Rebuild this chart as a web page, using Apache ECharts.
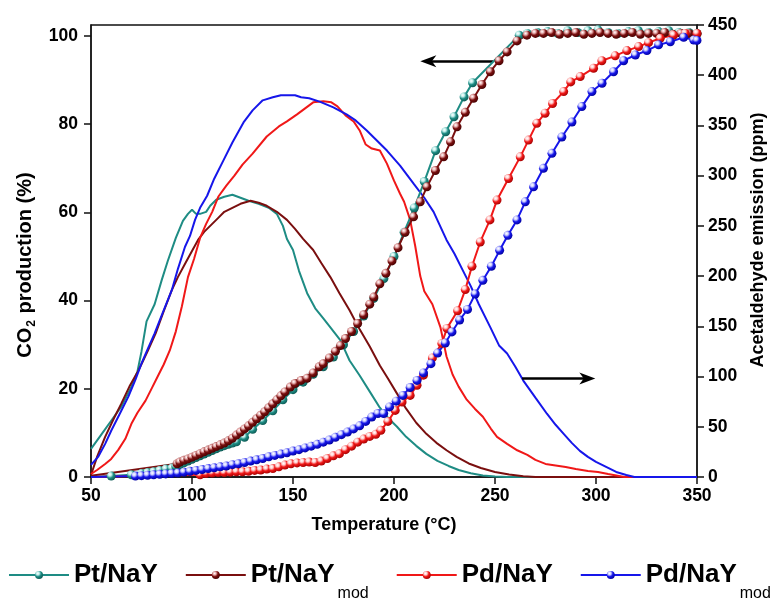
<!DOCTYPE html>
<html>
<head>
<meta charset="utf-8">
<script src="https://cdn.jsdelivr.net/npm/echarts@6/dist/echarts.min.js"></script>
<style>
  html, body { margin: 0; padding: 0; background: #fff; }
  #chart { width: 778px; height: 608px; }
</style>
</head>
<body>
<div id="chart"></div>
<script>
// Temperature axis ticks and the two y-axis tick sets
const tempTicks = [50, 100, 150, 200, 250, 300, 350];
const co2Ticks = [0, 20, 40, 60, 80, 100];
const ppmTicks = [0, 50, 100, 150, 200, 250, 300, 350, 400, 450];

const seriesNames = ['Pt/NaY', 'Pt/NaY_mod', 'Pd/NaY', 'Pd/NaY_mod'];

// CO2 production (%) vs temperature (°C)
const co2PtNaY = [[50,0],[60,0.2],[70,0.5],[75,0.8],[78,1.0],[81,1.2],[84,1.5],[87,1.8],[90,2.0],[92,2.4],[94,2.8],[96,3.2],[98,3.6],[100,4.0],[102,4.4],[104,4.8],[106,5.2],[108,5.6],[110,6.0],[112,6.4],[114,6.8],[116,7.1],[118,7.4],[120,7.7],[122,8.0],[126,9.0],[130,10.8],[135,12.8],[140,15.0],[145,17.5],[150,19.8],[155,21.5],[160,23.3],[165,25.0],[170,27.2],[175,30.0],[180,33.0],[185,36.5],[190,40.5],[195,45.0],[200,50.0],[205,55.5],[210,61.0],[215,67.0],[220.6,74.0],[225.6,78.3],[229.7,81.7],[234.7,86.2],[238.9,89.4],[262,100.2],[266,100.6],[271,100.8],[276,101.0],[281,100.6],[286,101.2],[291,100.8],[296,101.2],[301,101.4],[306,100.8],[311,100.6],[316,101.0],[321,101.2],[326,100.8],[331,101.0],[336,101.2],[341,100.8],[346,100.8],[350,100.6]];
const co2PtNaYmod = [[50,0.3],[92.6,3.0],[94,3.4],[96,3.8],[98,4.1],[100,4.5],[102,4.9],[104,5.3],[106,5.7],[108,6.1],[110,6.5],[112,6.9],[114,7.3],[116,7.7],[118,8.2],[120,8.8],[122,9.5],[124,10.2],[126,10.9],[128,11.6],[130,12.4],[132,13.2],[134,14.0],[136,14.8],[138,15.7],[140,16.6],[142,17.5],[144,18.4],[146,19.3],[148.7,20.4],[151,21.2],[154,21.9],[157,22.4],[160,23.6],[163,25.0],[165,25.7],[168,27.0],[171,28.5],[173.5,29.8],[176,31.4],[179,33.0],[182,34.8],[185,36.8],[188,39.2],[190,40.8],[193,43.8],[196,46.2],[199,49.0],[202,52.0],[205.5,55.5],[209.7,59.0],[213,62.4],[216.3,65.8],[220.5,69.5],[224.6,72.6],[228,76.0],[231.2,79.4],[235.3,82.7],[239.4,85.9],[243.5,89.0],[247.7,91.9],[252,94.4],[256,96.4],[260.9,98.9],[265.8,100.2],[270,100.6],[274,100.6],[278,100.8],[282,100.4],[286,100.6],[290,100.8],[294,100.4],[298,100.6],[302,100.8],[306,100.6],[310,100.4],[314,100.6],[318,100.8],[322,100.4],[326,100.6],[330,100.6],[334,100.8],[338,100.4],[342,100.6],[346,100.6],[350,100.5]];
const co2PdNaY = [[50,0],[104,0.5],[107,0.8],[110,0.9],[113,1.0],[116,1.0],[119,1.1],[122,1.2],[125,1.2],[128,1.3],[131,1.5],[134,1.6],[137,1.8],[140,1.9],[143,2.3],[146,2.7],[149,3.0],[152,3.2],[155,3.3],[158,3.4],[161,3.3],[164,3.6],[167,4.2],[170,4.8],[173,5.3],[176,6.2],[179,7.0],[182,7.9],[185,8.6],[188,9.2],[191,9.7],[193.5,10.6],[197,12.6],[200.6,15.1],[204,17.0],[208,18.5],[211.4,20.8],[214.6,23.1],[219,27.0],[223.7,30.3],[226.2,33.7],[231.5,37.7],[235.3,42.5],[238.6,47.8],[242.7,53.3],[247.5,58.3],[251,62.8],[256.7,67.7],[262.5,72.6],[266.6,76.4],[270.7,80.2],[274.8,82.5],[278.5,84.7],[284,87.4],[287.5,89.6],[292.2,90.8],[298.8,92.7],[302.9,94.4],[309.5,95.5],[315.3,96.7],[321.1,97.6],[326,98.5],[331.8,99.5],[338.4,100.2],[344.2,100.6],[350,100.6]];
const co2PdNaYmod = [[50,0],[72,0.2],[75,0.3],[78,0.4],[81,0.5],[84,0.6],[87,0.7],[90,0.8],[93,0.9],[96,1.1],[99,1.3],[102,1.5],[105,1.7],[108,1.9],[111,2.1],[114,2.3],[117,2.5],[120,2.8],[123,3.0],[126,3.3],[129,3.6],[132,3.9],[135,4.2],[138,4.6],[141,4.9],[144,5.2],[147,5.5],[150,5.9],[153,6.2],[156,6.6],[159,7.0],[162,7.4],[165,7.9],[168,8.4],[171,9.0],[174,9.6],[177,10.2],[180,10.9],[183,11.6],[186,12.6],[189,13.6],[192,14.4],[194.9,14.4],[197.8,15.9],[201.1,17.2],[204.4,18.5],[208,20.3],[211.4,21.9],[214.6,23.6],[218.3,25.7],[221.6,28.1],[225.4,30.4],[228.7,32.9],[232.5,35.6],[236.4,38.0],[240.2,41.5],[244,44.6],[248.2,47.8],[252.3,51.4],[256.4,54.8],[260.9,58.3],[265,62.4],[269.1,65.8],[274,70.0],[278.2,73.4],[283.1,77.1],[288.1,80.5],[293,84.0],[298,87.4],[303,89.3],[308.7,91.9],[313.7,94.4],[319.5,95.7],[325.2,96.7],[331,98.0],[336.8,98.7],[343.4,99.7],[348.4,99.1],[350,99.0]];

// Acetaldehyde emission (ppm) vs temperature (°C)
const acPtNaY = [[50,28],[55,42],[60,56],[65,70],[70,90],[73,105],[75,125],[77.5,155],[81.5,172],[85,196],[88,215],[92,238],[95.5,255],[98,262],[100,266],[102,262],[104,262],[107,264],[109,270],[112,276],[116,279],[120,281],[124,278],[128,275],[133,272],[138,268],[142,262],[145,250],[147,237],[150,226],[153,205],[157,183],[161,168],[165,158],[168.5,149],[173.5,136],[178,116],[183,101],[188,85],[193,69],[197,59],[201.5,50],[206,40],[211,31],[216,23],[221.5,16],[227,11],[232,7],[238,3.7],[244,1.5],[250,0.5],[256,0],[350,0]];
const acPtNaYmod = [[50,2],[53,20],[57,40],[61,57],[65,73],[69,90],[73.5,106],[78,125],[82,143],[86,165],[90,186],[93,199],[96.5,212],[100,225],[103,236],[106,244],[110,252],[113,258],[116,264],[120,268],[124,272],[129,275],[133,273],[137,270],[142,264],[147,256],[151,247],[155,237],[160,226],[164,213],[168.5,199],[173,183],[178,166],[183,147],[188,130],[193,111],[197,98],[201.5,83],[206,68],[211,54],[216,43],[221,34],[226,26.6],[231,20],[237,13.5],[243,9],[250,5],[257,2.5],[264,0.7],[270,0],[350,0]];
const acPdNaY = [[50,3],[53,7],[57,13],[60,18],[63.5,27],[67,38],[70,53],[73,64],[77,76],[80,88],[83,100],[86,112],[89,126],[92,145],[95,170],[98,199],[101,217],[104,238],[107,252],[110,264],[113,279],[117,290],[121,300],[125,311],[130,322],[137,339],[143,349],[147,354],[152,361],[156,367],[160,373],[165,374],[169,373],[172,369],[176,360],[180,354],[183,345],[186,331],[189,327],[193,325],[196.5,312],[200,295],[203,282],[205,274],[208,256],[210.5,230],[213,200],[215,185],[219,172],[223,149],[226,120],[229,102],[232,90],[236,77],[240,68],[244,60],[248,48],[251,40],[256,33],[261,26.6],[266,22],[270,17],[275,13],[280,11.5],[285,10],[290,8],[296,6],[301,5],[306,3],[310,1.5],[314,0],[350,0]];
const acPdNaYmod = [[50,12],[53.5,20],[57,33],[60,46],[64,62],[68.5,80],[72,97],[75,113],[78,127],[81.5,143],[85,161],[90,186],[93,207],[96.5,229],[99,240],[101.5,256],[104,268],[107.5,280],[111,297],[115.5,315],[120,333],[125.5,353],[130,365],[135,375],[140,378],[144,380],[148,380],[151,380],[154,378],[158,377],[163.5,373.5],[170,368],[176.5,361],[181,355],[186.5,345],[191,336],[196.5,325],[203,310],[209.7,292],[215,278],[219.6,264],[226,236],[230,222],[234,206],[238,190],[242,172],[247.7,149],[252,131],[256,123],[260,110],[264,96],[270,79],[275.7,63],[280,52],[284,43],[288,34],[292,26],[296,20],[300,15],[305,10],[310,5],[315,2],[319,0],[350,0]];

// Arrow annotations: [tail, head centre] in (temperature, axis value)
const arrowToCO2 = [[249, 94.3], [217, 94.3]];
const arrowToPpm = [[263.4, 98], [295.7, 98]];

const palette = [
  { line: '#1e8c84', dark: '#0b5650', light: '#bfeeea' },
  { line: '#7a0f0f', dark: '#430000', light: '#e9b0b0' },
  { line: '#f01818', dark: '#a00000', light: '#ffd0d0' },
  { line: '#1616ea', dark: '#00009a', light: '#cdd0ff' }
];

// concave arrowhead, pointing up before being turned along the line
const ARROW_HEAD = 'path://M0,0 L9,18 L0,13 L-9,18 Z';

function ball(p) {
  return new echarts.graphic.RadialGradient(0.35, 0.3, 0.75, [
    { offset: 0, color: '#ffffff' },
    { offset: 0.25, color: p.light },
    { offset: 0.55, color: p.line },
    { offset: 1, color: p.dark }
  ]);
}

function arrowLine(coords) {
  return {
    silent: true,
    symbol: ['none', ARROW_HEAD],
    symbolSize: [12, 16],
    label: { show: false },
    emphasis: { disabled: true },
    lineStyle: { color: '#000', width: 2.5, type: 'solid' },
    itemStyle: { color: '#000' },
    data: [[{ coord: coords[0] }, { coord: coords[1] }]]
  };
}

const co2Data = [co2PtNaY, co2PtNaYmod, co2PdNaY, co2PdNaYmod];
const acData = [acPtNaY, acPtNaYmod, acPdNaY, acPdNaYmod];

const FONT = "'Liberation Sans', Arial, Helvetica, sans-serif";

const series = [];
co2Data.forEach((d, i) => {
  const s = {
    name: seriesNames[i],
    type: 'line',
    yAxisIndex: 0,
    data: d,
    symbol: (v, params) => params.dataIndex === 0 ? 'none' : 'circle',
    symbolSize: 9,
    showAllSymbol: true,
    lineStyle: { color: palette[i].line, width: 2 },
    itemStyle: { color: ball(palette[i]), borderWidth: 0 },
    z: 5,
    silent: true
  };
  if (i === 1) s.markLine = arrowLine(arrowToCO2);
  series.push(s);
});
acData.forEach((d, i) => {
  const s = {
    name: seriesNames[i],
    type: 'line',
    yAxisIndex: 1,
    data: d,
    showSymbol: false,
    symbol: 'none',
    lineStyle: { color: palette[i].line, width: 2 },
    itemStyle: { color: palette[i].line },
    z: 3,
    silent: true
  };
  if (i === 3) s.markLine = arrowLine(arrowToPpm);
  series.push(s);
});

const chart = echarts.init(document.getElementById('chart'), null, { renderer: 'canvas' });
chart.setOption({
  animation: false,
  backgroundColor: '#fff',
  textStyle: { fontFamily: FONT },
  grid: { left: 91, right: 81, top: 25, bottom: 131, show: true, borderColor: '#111', borderWidth: 1.3 },
  legend: {
    data: seriesNames,
    left: 3,
    top: 543,
    itemGap: 27,
    itemWidth: 60,
    itemHeight: 10,
    selectedMode: false,
    formatter: name => name.endsWith('_mod')
      ? '{m|' + name.replace('_mod', '') + '}{s|mod}'
      : '{m|' + name + '}',
    textStyle: {
      fontFamily: FONT,
      color: '#000',
      rich: {
        m: { fontSize: 26, fontWeight: 'bold', lineHeight: 30, color: '#000', fontFamily: FONT },
        s: { fontSize: 16, lineHeight: 16, padding: [38, 0, 0, 3], color: '#000', fontFamily: FONT }
      }
    }
  },
  xAxis: {
    type: 'value',
    min: 50, max: 350, interval: 50,
    name: 'Temperature (°C)',
    nameLocation: 'middle',
    nameGap: 39,
    nameTextStyle: { fontSize: 18, fontWeight: 'bold', color: '#000', fontFamily: FONT, padding: [0, 20, 0, 0] },
    axisLine: { show: true, lineStyle: { color: '#111', width: 1.5 } },
    axisTick: { show: true, inside: false, length: 7, lineStyle: { color: '#111', width: 1.5 }, customValues: tempTicks },
    axisLabel: { fontSize: 17.5, fontWeight: 'bold', color: '#000', margin: 10, customValues: tempTicks },
    splitLine: { show: false }
  },
  yAxis: [
    {
      type: 'value',
      position: 'left',
      min: 0, max: 102.5,
      name: '{a|CO}{b|2}{a| production (%)}',
      nameLocation: 'middle',
      nameGap: 52,
      nameRotate: 90,
      nameTextStyle: {
        color: '#000',
        padding: [0, 28, 0, 0],
        rich: {
          a: { fontSize: 20, fontWeight: 'bold', color: '#000', fontFamily: FONT, lineHeight: 22 },
          b: { fontSize: 12, fontWeight: 'bold', color: '#000', fontFamily: FONT, lineHeight: 12, padding: [12, 1, 0, 1] }
        }
      },
      axisLine: { show: true, lineStyle: { color: '#111', width: 1.5 } },
      axisTick: { show: true, inside: false, length: 7, lineStyle: { color: '#111', width: 1.5 }, customValues: co2Ticks },
      axisLabel: { fontSize: 17.5, fontWeight: 'bold', color: '#000', margin: 13, customValues: co2Ticks },
      splitLine: { show: false }
    },
    {
      type: 'value',
      position: 'right',
      min: 0, max: 450, interval: 50,
      name: 'Acetaldehyde emission (ppm)',
      nameLocation: 'middle',
      nameGap: 52,
      nameRotate: 90,
      nameTextStyle: { fontSize: 18, fontWeight: 'bold', color: '#000', fontFamily: FONT, padding: [0, 0, 0, 22] },
      axisLine: { show: true, lineStyle: { color: '#111', width: 1.5 } },
      axisTick: { show: true, inside: false, length: 7, lineStyle: { color: '#111', width: 1.5 }, customValues: ppmTicks },
      axisLabel: { fontSize: 17.5, fontWeight: 'bold', color: '#000', margin: 11, customValues: ppmTicks },
      splitLine: { show: false }
    }
  ],
  series: series
});
</script>
</body>
</html>
